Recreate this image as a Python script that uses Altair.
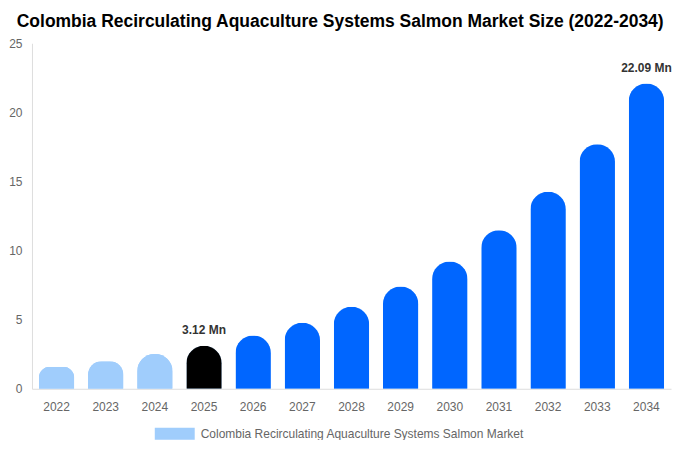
import pandas as pd
import altair as alt

# values (USD Mn)
years = ['2022', '2023', '2024', '2025', '2026', '2027', '2028',
         '2029', '2030', '2031', '2032', '2033', '2034']
values = [1.60, 1.99, 2.51, 3.12, 3.85, 4.78, 5.94, 7.40, 9.21, 11.47, 14.25, 17.70, 22.09]
bar_colors = ['#a0cdfc', '#a0cdfc', '#a0cdfc', '#000000'] + ['#0066ff'] * 9
labels = ['', '', '', '3.12 Mn', '', '', '', '', '', '', '', '', '22.09 Mn']
series = 'Colombia Recirculating Aquaculture Systems Salmon Market'

df = pd.DataFrame({'year': years, 'value': values, 'colr': bar_colors, 'label': labels})
df['series'] = series

x_enc = alt.X('year:N', sort=years,
              scale=alt.Scale(paddingInner=0.28, paddingOuter=0.14),
              axis=alt.Axis(title=None, labelAngle=0, ticks=False, labelPadding=13,
                            domainColor='#dddddd', labelColor='#666666', labelFontSize=12))
y_enc = alt.Y('value:Q', scale=alt.Scale(domain=[0, 25]),
              axis=alt.Axis(title=None, values=[0, 5, 10, 15, 20, 25], grid=False, ticks=False,
                            labelPadding=10, domainColor='#dddddd', labelColor='#666666',
                            labelFontSize=12))

base = alt.Chart(df)

# first layer only carries the legend (light blue swatch)
legend_bars = base.mark_bar(cornerRadiusTopLeft=18, cornerRadiusTopRight=18).encode(
    x=x_enc, y=y_enc,
    color=alt.Color('series:N', scale=alt.Scale(range=['#a0cdfc']),
                    legend=alt.Legend(title=None, orient='none', legendX=123, legendY=371,
                                      padding=0, symbolType='M-1,-0.3H1V0.3H-1Z',
                                      symbolSize=1600, symbolStrokeWidth=0, labelOffset=6,
                                      labelFontSize=12, labelColor='#666666', labelLimit=500))
)

# real colours drawn on top
bars = base.mark_bar(cornerRadiusTopLeft=18, cornerRadiusTopRight=18).encode(
    x=x_enc, y=y_enc,
    color=alt.Color('colr:N', scale=None)
)

text = base.mark_text(baseline='bottom', dy=-9, fontSize=12, fontWeight='bold',
                      color='#333333').encode(
    x=x_enc, y=y_enc, text='label:N'
)

chart = (legend_bars + bars + text).properties(
    width=640, height=346,
    padding={'left': 0, 'right': 0, 'top': 4, 'bottom': 0},
    title=alt.TitleParams('Colombia Recirculating Aquaculture Systems Salmon Market Size (2022-2034)',
                          fontSize=17.5, fontWeight='bold', color='#000000', anchor='middle',
                          frame='bounds', font='Liberation Sans', offset=7)
).configure(font='Liberation Sans').configure_view(strokeOpacity=0)

chart.save("out.html", embed_options={"renderer": "svg", "actions": False})
